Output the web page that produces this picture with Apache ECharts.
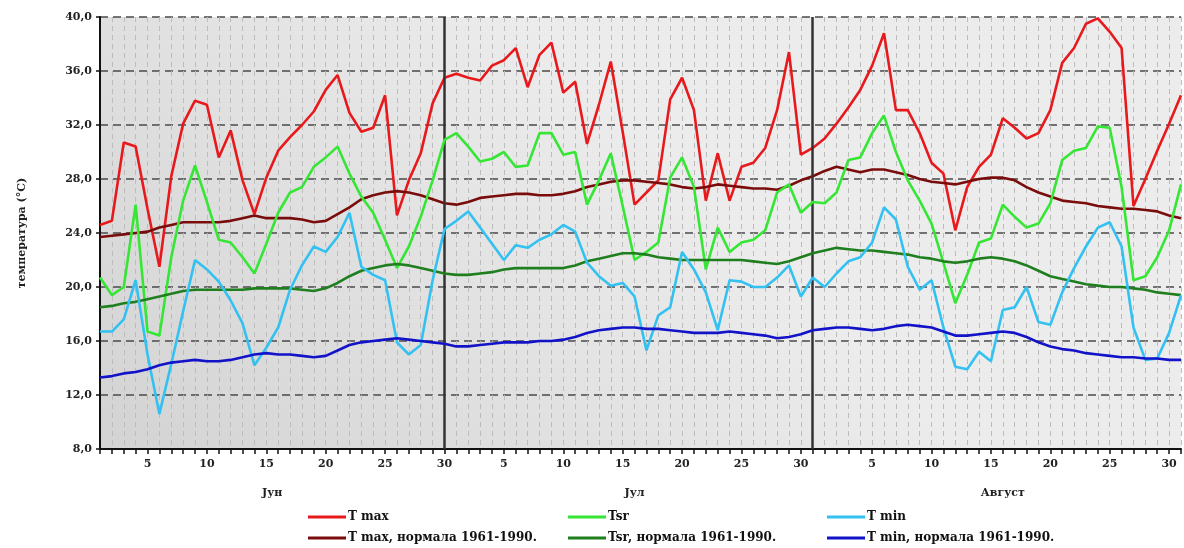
<!DOCTYPE html>
<html>
<head>
<meta charset="utf-8">
<script src="https://cdn.jsdelivr.net/npm/echarts@6/dist/echarts.min.js"></script>
<style>
html,body{margin:0;padding:0;background:#fff;}
#chart{width:1184px;height:548px;}
</style>
</head>
<body>
<div id="chart"></div>
<script>
// Categories: days of June, July, August
const juneDays = [1,2,3,4,5,6,7,8,9,10,11,12,13,14,15,16,17,18,19,20,21,22,23,24,25,26,27,28,29,30];
const julyDays = [1,2,3,4,5,6,7,8,9,10,11,12,13,14,15,16,17,18,19,20,21,22,23,24,25,26,27,28,29,30,31];
const augDays  = [1,2,3,4,5,6,7,8,9,10,11,12,13,14,15,16,17,18,19,20,21,22,23,24,25,26,27,28,29,30,31];
const monthNames = ['Јун', 'Јул', 'Август'];
const monthCenters = [14.5, 45, 76]; // category index at middle of each month
const monthBounds = [29, 60];        // last day of June, last day of July

const yTicks = [8, 12, 16, 20, 24, 28, 32, 36, 40];

const seriesNames = ['T max', 'T max, нормала 1961-1990.', 'Tsr', 'Tsr, нормала 1961-1990.', 'T min', 'T min, нормала 1961-1990.'];

const tMax = [
  24.6,24.9,30.7,30.4,25.8,21.5,28.2,32.1,33.8,33.5,29.6,31.6,27.9,25.4,28.1,30.1,31.1,32.0,33.0,34.6,35.7,32.9,31.5,31.8,34.2,25.3,27.9,29.9,33.6,35.5,
  35.8,35.5,35.3,36.4,36.8,37.7,34.8,37.2,38.1,34.4,35.2,30.6,33.5,36.7,31.5,26.1,27.0,27.9,33.9,35.5,33.1,26.4,29.9,26.4,28.9,29.2,30.3,33.1,37.4,29.8,30.3,
  31.0,32.1,33.3,34.6,36.4,38.8,33.1,33.1,31.4,29.2,28.4,24.2,27.4,28.9,29.8,32.5,31.8,31.0,31.4,33.1,36.6,37.7,39.5,39.9,38.9,37.7,26.0,28.0,30.1,32.1,34.2
];
const tMaxNorm = [
  23.7,23.8,23.9,24.0,24.1,24.4,24.6,24.8,24.8,24.8,24.8,24.9,25.1,25.3,25.1,25.1,25.1,25.0,24.8,24.9,25.4,25.9,26.5,26.8,27.0,27.1,27.0,26.8,26.5,26.2,
  26.1,26.3,26.6,26.7,26.8,26.9,26.9,26.8,26.8,26.9,27.1,27.4,27.6,27.8,27.9,27.9,27.8,27.7,27.6,27.4,27.3,27.4,27.6,27.5,27.4,27.3,27.3,27.2,27.5,27.9,28.2,
  28.6,28.9,28.7,28.5,28.7,28.7,28.5,28.3,28.0,27.8,27.7,27.6,27.8,28.0,28.1,28.1,27.9,27.4,27.0,26.7,26.4,26.3,26.2,26.0,25.9,25.8,25.8,25.7,25.6,25.3,25.1
];
const tSr = [
  20.7,19.4,20.0,26.1,16.7,16.4,22.2,26.4,29.0,26.3,23.5,23.3,22.2,21.0,23.2,25.5,27.0,27.4,28.9,29.6,30.4,28.4,26.7,25.5,23.5,21.4,23.0,25.2,27.9,30.9,
  31.4,30.4,29.3,29.5,30.0,28.9,29.0,31.4,31.4,29.8,30.0,26.1,27.9,29.9,26.0,22.0,22.6,23.3,28.1,29.6,27.4,21.3,24.4,22.6,23.3,23.5,24.2,27.0,27.6,25.5,26.3,
  26.2,27.0,29.4,29.6,31.4,32.7,30.0,27.9,26.4,24.7,21.8,18.8,20.9,23.3,23.6,26.1,25.2,24.4,24.7,26.2,29.4,30.1,30.3,31.9,31.8,27.4,20.5,20.8,22.2,24.2,27.6
];
const tSrNorm = [
  18.5,18.6,18.8,18.9,19.1,19.3,19.5,19.7,19.8,19.8,19.8,19.8,19.8,19.9,19.9,19.9,19.9,19.8,19.7,19.9,20.3,20.8,21.2,21.4,21.6,21.7,21.6,21.4,21.2,21.0,
  20.9,20.9,21.0,21.1,21.3,21.4,21.4,21.4,21.4,21.4,21.6,21.9,22.1,22.3,22.5,22.5,22.4,22.2,22.1,22.0,22.0,22.0,22.0,22.0,22.0,21.9,21.8,21.7,21.9,22.2,22.5,
  22.7,22.9,22.8,22.7,22.7,22.6,22.5,22.4,22.2,22.1,21.9,21.8,21.9,22.1,22.2,22.1,21.9,21.6,21.2,20.8,20.6,20.4,20.2,20.1,20.0,20.0,19.9,19.8,19.6,19.5,19.4
];
const tMin = [
  16.7,16.7,17.6,20.5,15.0,10.6,14.3,18.2,22.0,21.3,20.4,19.0,17.3,14.2,15.5,17.0,19.8,21.6,23.0,22.6,23.7,25.5,21.5,20.9,20.5,15.9,15.0,15.7,20.5,24.3,
  24.9,25.6,24.4,23.2,22.0,23.1,22.9,23.5,23.9,24.6,24.1,21.8,20.8,20.1,20.3,19.3,15.3,17.9,18.5,22.6,21.3,19.6,16.8,20.5,20.4,20.0,20.0,20.7,21.6,19.3,20.7,
  20.0,21.0,21.9,22.2,23.3,25.9,25.0,21.5,19.8,20.5,17.0,14.1,13.9,15.2,14.5,18.3,18.5,20.0,17.4,17.2,19.6,21.4,23.0,24.4,24.8,23.0,17.0,14.6,14.7,16.6,19.4
];
const tMinNorm = [
  13.3,13.4,13.6,13.7,13.9,14.2,14.4,14.5,14.6,14.5,14.5,14.6,14.8,15.0,15.1,15.0,15.0,14.9,14.8,14.9,15.3,15.7,15.9,16.0,16.1,16.2,16.1,16.0,15.9,15.8,
  15.6,15.6,15.7,15.8,15.9,15.9,15.9,16.0,16.0,16.1,16.3,16.6,16.8,16.9,17.0,17.0,16.9,16.9,16.8,16.7,16.6,16.6,16.6,16.7,16.6,16.5,16.4,16.2,16.3,16.5,16.8,
  16.9,17.0,17.0,16.9,16.8,16.9,17.1,17.2,17.1,17.0,16.7,16.4,16.4,16.5,16.6,16.7,16.6,16.3,15.9,15.6,15.4,15.3,15.1,15.0,14.9,14.8,14.8,14.7,14.7,14.6,14.6
];

const colors = ['#e8191c', '#7a0c0c', '#35e635', '#1f7f1f', '#33c1f2', '#1212c8'];

const categories = []
  .concat(juneDays.map(d => '6-' + d))
  .concat(julyDays.map(d => '7-' + d))
  .concat(augDays.map(d => '8-' + d));

const font = 'DejaVu Serif';
const seriesData = [tMax, tMaxNorm, tSr, tSrNorm, tMin, tMinNorm];

const series = seriesNames.map((name, i) => ({
  name: name,
  type: 'line',
  data: seriesData[i],
  xAxisIndex: 0,
  yAxisIndex: 0,
  showSymbol: false,
  symbol: 'none',
  lineStyle: { color: colors[i], width: 2.6 },
  itemStyle: { color: colors[i] },
  smooth: false,
  animation: false,
  z: 3 + i
}));
series[0].markLine = {
  symbol: ['none', 'none'],
  silent: true,
  label: { show: false },
  lineStyle: { color: '#333', width: 2.5, type: 'solid' },
  data: monthBounds.map(b => ({ xAxis: b })),
  animation: false
};

const legendCols = [308, 568, 827];
const legendRows = [511, 532];
const legends = seriesNames.map((name, i) => ({
  data: [name],
  left: legendCols[Math.floor(i / 2)],
  top: legendRows[i % 2],
  padding: 0,
  icon: 'rect',
  itemWidth: 38,
  itemHeight: 3,
  itemGap: 0,
  selectedMode: false,
  textStyle: { fontFamily: font, fontWeight: 'bold', fontSize: 12, color: '#111', padding: [0, 0, 0, -3] }
}));

const chart = echarts.init(document.getElementById('chart'), null, { renderer: 'canvas' });
chart.setOption({
  animation: false,
  backgroundColor: '#ffffff',
  color: colors,
  grid: {
    left: 100, right: 2, top: 17, bottom: 99,
    show: true,
    borderWidth: 0,
    backgroundColor: {
      type: 'linear', x: 0, y: 1, x2: 0.4, y2: 0,
      colorStops: [
        { offset: 0, color: '#d3d3d3' },
        { offset: 1, color: '#ececec' }
      ]
    }
  },
  legend: legends,
  xAxis: [
    {
      type: 'category',
      data: categories,
      boundaryGap: false,
      axisLine: { show: true, lineStyle: { color: '#111', width: 2 } },
      axisTick: { show: true, interval: 0, length: 5, lineStyle: { color: '#111', width: 1.5 } },
      axisLabel: {
        interval: 0,
        margin: 10,
        fontFamily: font, fontWeight: 'bold', fontSize: 11, color: '#222',
        formatter: function (v) {
          const d = parseInt(v.split('-')[1], 10);
          return d % 5 === 0 ? String(d) : '';
        }
      },
      splitLine: { show: true, interval: 0, lineStyle: { color: '#bcbcbc', width: 1, type: [5, 4] } }
    },
    {
      type: 'value',
      min: 0,
      max: categories.length - 1,
      position: 'bottom',
      offset: 31,
      axisLine: { show: false },
      axisTick: { show: false },
      splitLine: { show: false },
      axisLabel: {
        customValues: monthCenters,
        fontFamily: font, fontWeight: 'bold', fontSize: 11, color: '#222',
        formatter: function (v) {
          const k = monthCenters.indexOf(v);
          return k >= 0 ? monthNames[k] : '';
        }
      }
    }
  ],
  yAxis: {
    type: 'value',
    min: 8, max: 40, interval: 4,
    name: 'температура (°C)',
    nameLocation: 'middle',
    nameGap: 72,
    nameTextStyle: { fontFamily: font, fontWeight: 'bold', fontSize: 11, color: '#222' },
    axisLine: { show: true, lineStyle: { color: '#111', width: 2 } },
    axisTick: { show: true, length: 4, lineStyle: { color: '#111', width: 1.5 } },
    axisLabel: {
      margin: 8,
      fontFamily: font, fontWeight: 'bold', fontSize: 11, color: '#222',
      formatter: v => (yTicks.indexOf(v) >= 0 ? v.toFixed(1).replace('.', ',') : '')
    },
    splitLine: { show: true, lineStyle: { color: '#4a4a4a', width: 1.6, type: [8, 5] } }
  },
  series: series
});
</script>
</body>
</html>
